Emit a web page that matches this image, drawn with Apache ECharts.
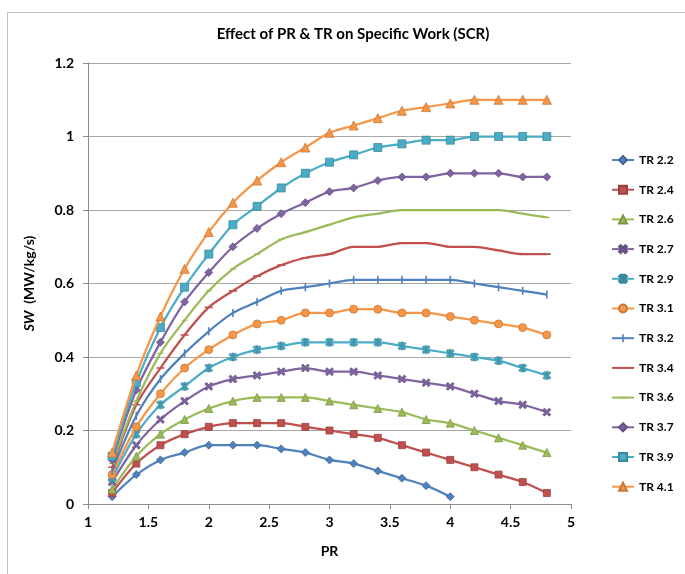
<!DOCTYPE html>
<html>
<head>
<meta charset="utf-8">
<script src="https://cdn.jsdelivr.net/npm/echarts@6/dist/echarts.min.js"></script>
<style>html,body{margin:0;padding:0;background:#fff}#c{width:685px;height:574px}</style>
</head>
<body>
<div id="c"></div>
<script>
const prValues = [1.2,1.4,1.6,1.8,2.0,2.2,2.4,2.6,2.8,3.0,3.2,3.4,3.6,3.8,4.0,4.2,4.4,4.6,4.8];
const seriesNames = ['TR 2.2','TR 2.4','TR 2.6','TR 2.7','TR 2.9','TR 3.1','TR 3.2','TR 3.4','TR 3.6','TR 3.7','TR 3.9','TR 4.1'];
const tr22 = [0.02,0.08,0.12,0.14,0.16,0.16,0.16,0.15,0.14,0.12,0.11,0.09,0.07,0.05,0.02];
const tr24 = [0.03,0.11,0.16,0.19,0.21,0.22,0.22,0.22,0.21,0.20,0.19,0.18,0.16,0.14,0.12,0.10,0.08,0.06,0.03];
const tr26 = [0.04,0.13,0.19,0.23,0.26,0.28,0.29,0.29,0.29,0.28,0.27,0.26,0.25,0.23,0.22,0.20,0.18,0.16,0.14];
const tr27 = [0.06,0.16,0.23,0.28,0.32,0.34,0.35,0.36,0.37,0.36,0.36,0.35,0.34,0.33,0.32,0.30,0.28,0.27,0.25];
const tr29 = [0.07,0.19,0.27,0.32,0.37,0.40,0.42,0.43,0.44,0.44,0.44,0.44,0.43,0.42,0.41,0.40,0.39,0.37,0.35];
const tr31 = [0.08,0.21,0.30,0.37,0.42,0.46,0.49,0.50,0.52,0.52,0.53,0.53,0.52,0.52,0.51,0.50,0.49,0.48,0.46];
const tr32 = [0.09,0.24,0.34,0.41,0.47,0.52,0.55,0.58,0.59,0.60,0.61,0.61,0.61,0.61,0.61,0.60,0.59,0.58,0.57];
const tr34 = [0.10,0.27,0.37,0.46,0.535,0.58,0.62,0.65,0.67,0.68,0.70,0.70,0.71,0.71,0.70,0.70,0.69,0.68,0.68];
const tr36 = [0.11,0.28,0.41,0.50,0.58,0.64,0.68,0.72,0.74,0.76,0.78,0.79,0.80,0.80,0.80,0.80,0.80,0.79,0.78];
const tr37 = [0.12,0.31,0.44,0.55,0.63,0.70,0.75,0.79,0.82,0.85,0.86,0.88,0.89,0.89,0.90,0.90,0.90,0.89,0.89];
const tr39 = [0.13,0.33,0.48,0.59,0.68,0.76,0.81,0.86,0.90,0.93,0.95,0.97,0.98,0.99,0.99,1.00,1.00,1.00,1.00];
const tr41 = [0.14,0.35,0.51,0.64,0.74,0.82,0.88,0.93,0.97,1.01,1.03,1.05,1.07,1.08,1.09,1.10,1.10,1.10,1.10];
const allValues = [tr22,tr24,tr26,tr27,tr29,tr31,tr32,tr34,tr36,tr37,tr39,tr41];
const xTicks = {min:1, max:5, step:0.5};
const yTicks = {min:0, max:1.2, step:0.2};

const colors = ['#4F81BD','#C0504D','#9BBB59','#8064A2','#4BACC6','#F79646','#4F81BD','#C0504D','#9BBB59','#8064A2','#4BACC6','#F79646'];
const xPath = 'path://M0,2L2,0L5,3L8,0L10,2L7,5L10,8L8,10L5,7L2,10L0,8L3,5Z';
const starPath = 'path://M0,2L2,0L5,3L8,0L10,2L7,5L10,8L8,10L5,7L2,10L0,8L3,5Z M4,0L6,0L6,10L4,10Z';
const box = 'M0,0L0.01,0L0,0.01Z M10,10L9.99,10L10,9.99Z ';
const vbarPath = 'path://' + box + 'M4,0L6,0L6,10L4,10Z';
const hbarPath = 'path://' + box + 'M0,4L10,4L10,6L0,6Z';
const symbols = ['diamond','rect','triangle',xPath,starPath,'circle',vbarPath,hbarPath,hbarPath,'diamond','rect','triangle'];
const sizes = [8,7,8,8,8,8,8,8,6,8,8,9];
const borders = [0.8,0.8,0.8,0.8,0.8,0.8,0,0,0,0.8,0.8,0.8];

function darker(hex){
  const n=parseInt(hex.slice(1),16);
  const r=Math.round(((n>>16)&255)*0.8),g=Math.round(((n>>8)&255)*0.8),b=Math.round((n&255)*0.8);
  return 'rgb('+r+','+g+','+b+')';
}

const series = seriesNames.map((name,i)=>({
  name,
  type:'line',
  smooth:0.3,
  data: allValues[i].map((v,j)=>[prValues[j], v]),
  symbol: symbols[i],
  symbolSize: sizes[i],
  symbolKeepAspect: true,
  lineStyle:{color:colors[i], width:2.25},
  itemStyle:{color:colors[i], borderColor:darker(colors[i]), borderWidth:borders[i]},
  emphasis:{disabled:true},
  animation:false,
  z: 2 + i
}));

const chart = echarts.init(document.getElementById('c'), null, {renderer:'canvas'});
const fontFam = 'Lato, "Open Sans", sans-serif';
chart.setOption({
  backgroundColor:'#fff',
  animation:false,
  color: colors,
  title:{
    text:'Effect of PR & TR on Specific Work (SCR)',
    left: 348, top: 22, textAlign:'center',
    textStyle:{fontFamily:fontFam, fontWeight:'bold', fontSize:15, color:'#000'}
  },
  graphic:[{type:'rect', shape:{x:7.5,y:12.5,width:700,height:600}, style:{fill:'none', stroke:'#c0c0c0', lineWidth:1}, silent:true, z:-10}],
  legend:{
    orient:'vertical', left:606, top:149, itemWidth:22, itemHeight:10, itemGap:17.7,
    textStyle:{fontFamily:fontFam, fontWeight:'bold', fontSize:12, color:'#000'},
    data: seriesNames
  },
  grid:{left:88, top:63, right:114, bottom:70, containLabel:false},
  xAxis:{
    type:'value', min:xTicks.min, max:xTicks.max, interval:xTicks.step,
    name:'PR', nameLocation:'middle', nameGap:40,
    nameTextStyle:{fontFamily:fontFam, fontWeight:'bold', fontSize:14, color:'#000'},
    axisLine:{show:true, lineStyle:{color:'#8c8c8c', width:1}},
    axisTick:{show:true, length:5, lineStyle:{color:'#8c8c8c'}},
    axisLabel:{fontFamily:fontFam, fontWeight:'bold', fontSize:14, color:'#000', margin:11},
    splitLine:{show:false}
  },
  yAxis:{
    type:'value', min:yTicks.min, max:yTicks.max, interval:yTicks.step,
    name:'{i|SW}  {n|(MW/kg/s)}', nameLocation:'middle', nameGap:52, nameRotate:90,
    nameTextStyle:{fontFamily:fontFam, fontWeight:'bold', fontSize:14, color:'#000',
      rich:{i:{fontFamily:fontFam, fontWeight:'bold', fontStyle:'italic', fontSize:14, color:'#000'},
            n:{fontFamily:fontFam, fontWeight:'bold', fontSize:14, color:'#000'}}},
    axisLine:{show:true, lineStyle:{color:'#8c8c8c', width:1}},
    axisTick:{show:true, length:5, lineStyle:{color:'#8c8c8c'}},
    axisLabel:{fontFamily:fontFam, fontWeight:'bold', fontSize:14, color:'#000', margin:14,
      formatter:v=>String(Math.round(v*10)/10)},
    splitLine:{show:true, lineStyle:{color:'#a6a6a6', width:1}}
  },
  series
});
</script>
</body>
</html>
